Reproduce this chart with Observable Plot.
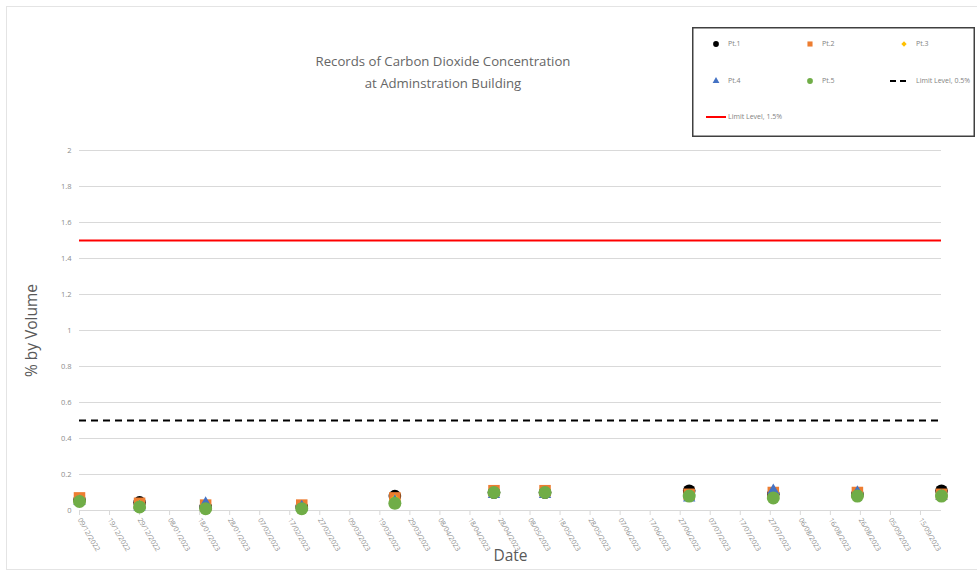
<!DOCTYPE html>
<html>
<head>
<meta charset="utf-8">
<script src="https://cdn.jsdelivr.net/npm/d3@7"></script>
<script src="https://cdn.jsdelivr.net/npm/@observablehq/plot@0.6"></script>
<style>
  html, body { margin: 0; padding: 0; background: #fff; }
  #wrap { position: relative; width: 977px; height: 572px; font-family: "Open Sans", "Liberation Sans", sans-serif; }
  #frame { position: absolute; left: 6px; top: 6px; width: 975px; height: 564px; border: 1.5px solid #e4e4e4; border-right: none; box-sizing: border-box; pointer-events: none; }
  #title { position: absolute; left: 243px; width: 400px; top: 50px; text-align: center; color: #666666; font-size: 13.2px; line-height: 22px; font-family: "Open Sans", "Liberation Sans", sans-serif; }
  #legend { position: absolute; left: 692px; top: 27px; }
</style>
</head>
<body>
<div id="wrap">
  <div id="chart"></div>
  <div id="frame"></div>
  <div id="title">Records of Carbon Dioxide Concentration<br>at Adminstration Building</div>
  <div id="legend"></div>
</div>
<script>
// ---- data ----
const dates = ["2022-12-09","2022-12-29","2023-01-20","2023-02-21","2023-03-24","2023-04-26","2023-05-13","2023-06-30","2023-07-28","2023-08-25","2023-09-22"];
const pt1 = [0.06, 0.045, 0.02, 0.02, 0.08, 0.10, 0.10, 0.11, 0.09, 0.09, 0.11];
const pt2 = [0.07, 0.04, 0.03, 0.03, 0.07, 0.11, 0.11, 0.09, 0.10, 0.10, 0.09];
const pt3 = [0.06, 0.03, 0.03, 0.02, 0.06, 0.10, 0.10, 0.08, 0.09, 0.09, 0.08];
const pt4 = [0.05, 0.02, 0.04, 0.02, 0.05, 0.09, 0.09, 0.07, 0.11, 0.10, 0.08];
const pt5 = [0.05, 0.02, 0.01, 0.01, 0.04, 0.10, 0.10, 0.08, 0.07, 0.08, 0.08];
const seriesNames = ["Pt.1", "Pt.2", "Pt.3", "Pt.4", "Pt.5"];
const limitLow = 0.5;
const limitHigh = 1.5;
const xTickLabels = ["09/12/2022","19/12/2022","29/12/2022","08/01/2023","18/01/2023","28/01/2023","07/02/2023","17/02/2023","27/02/2023","09/03/2023","19/03/2023","29/03/2023","08/04/2023","18/04/2023","28/04/2023","08/05/2023","18/05/2023","28/05/2023","07/06/2023","17/06/2023","27/06/2023","07/07/2023","17/07/2023","27/07/2023","06/08/2023","16/08/2023","26/08/2023","05/09/2023","15/09/2023"];
const yTicks = [0, 0.2, 0.4, 0.6, 0.8, 1, 1.2, 1.4, 1.6, 1.8, 2];

// ---- build ----
const parse = s => new Date(s + "T00:00:00Z");
const parseLabel = s => { const [d, m, y] = s.split("/"); return new Date(Date.UTC(+y, +m - 1, +d)); };
const xTicks = xTickLabels.map(parseLabel);
const fmt = d3.utcFormat("%d/%m/%Y");

const styles = [
  {fill: "#000000", symbol: "circle", r: 6.3},
  {fill: "#ed7d31", symbol: "square", r: 6.5},
  {fill: "#ffc000", symbol: "diamond2", r: 5},
  {fill: "#4472c4", symbol: "triangle", r: 4.6},
  {fill: "#70ad47", symbol: "circle", r: 6.5}
];
const allSeries = [pt1, pt2, pt3, pt4, pt5];
const rows = allSeries.map((vals, i) => vals.map((v, j) => ({date: parse(dates[j]), value: v, series: seriesNames[i]})));

const marks = [
  Plot.gridY(yTicks, {stroke: "#d9d9d9", strokeOpacity: 1, strokeWidth: 1}),
  Plot.axisY(yTicks, {tickSize: 0, tickPadding: 8, fontSize: 7.5, fill: "#8c8c8c", tickFormat: d => String(+d.toFixed(1)), label: null}),
  Plot.ruleY([0], {stroke: "#d9d9d9", strokeWidth: 1}),
  Plot.axisX(xTicks, {tickSize: 5, stroke: "#d9d9d9", tickRotate: 60, fontSize: 7, fill: "#8c8c8c", tickFormat: fmt, label: null, tickPadding: 3}),
  Plot.ruleY([limitHigh], {stroke: "#ff0000", strokeWidth: 2}),
  Plot.ruleY([limitLow], {stroke: "#000000", strokeWidth: 2, strokeDasharray: "7,5"})
];
rows.forEach((r, i) => {
  marks.push(Plot.dot(r, {x: "date", y: "value", r: styles[i].r, fill: styles[i].fill, symbol: () => styles[i].symbol, stroke: "none"}));
});
marks.push(Plot.text(["% by Volume"], {frameAnchor: "left", textAnchor: "middle", dx: -47, rotate: -90, fontSize: 15.5, fill: "#595959", text: d => d, fontFamily: "Open Sans, Liberation Sans, sans-serif"}));
marks.push(Plot.text(["Date"], {frameAnchor: "bottom", dy: 50, fontSize: 15.5, fill: "#595959", text: d => d, fontFamily: "Open Sans, Liberation Sans, sans-serif"}));

const chart = Plot.plot({
  width: 977,
  height: 572,
  marginLeft: 79,
  marginRight: 36,
  marginTop: 150,
  marginBottom: 62,
  style: {background: "transparent", fontFamily: "Open Sans, Liberation Sans, sans-serif", overflow: "visible"},
  x: {type: "utc", domain: [parse("2022-12-09"), parse("2023-09-22")]},
  y: {domain: [0, 2]},
  marks
});
document.getElementById("chart").appendChild(chart);

// ---- legend ----
const lw = 283, lh = 110;
const leg = d3.select("#legend").append("svg").attr("width", lw).attr("height", lh);
leg.append("rect").attr("x", 0.75).attr("y", 0.75).attr("width", lw - 1.5).attr("height", lh - 1.5)
  .attr("fill", "#fff").attr("stroke", "#404040").attr("stroke-width", 1.5);
const symMap = {circle: d3.symbolCircle, square: d3.symbolSquare, diamond2: d3.symbolDiamond2, triangle: d3.symbolTriangle};
const legItems = [
  ...seriesNames.map((n, i) => ({label: n, kind: "sym", i})),
  {label: "Limit Level, " + limitLow + "%", kind: "dash"},
  {label: "Limit Level, " + limitHigh + "%", kind: "red"}
];
const colX = [24, 118, 212];
const rowY = [17, 54, 90];
legItems.forEach((it, k) => {
  const cx = colX[k % 3], cy = rowY[Math.floor(k / 3)];
  const g = leg.append("g");
  let tx = cx + 12;
  if (it.kind === "sym") {
    g.append("path").attr("d", d3.symbol(symMap[styles[it.i].symbol], it.i === 2 ? 18 : (it.i === 3 ? 20 : 26))())
      .attr("transform", `translate(${cx},${cy})`).attr("fill", styles[it.i].fill);
  } else if (it.kind === "dash") {
    g.append("line").attr("x1", cx - 14).attr("x2", cx + 2).attr("y1", cy).attr("y2", cy)
      .attr("stroke", "#000").attr("stroke-width", 2).attr("stroke-dasharray", "6,4");
    tx = cx + 12;
  } else {
    g.append("line").attr("x1", cx - 10).attr("x2", cx + 10).attr("y1", cy).attr("y2", cy)
      .attr("stroke", "#ff0000").attr("stroke-width", 2);
    tx = cx + 12;
  }
  g.append("text").attr("x", tx).attr("y", cy).attr("dy", "0.35em").attr("font-size", 7)
    .attr("fill", "#7f7f7f").attr("font-family", "Open Sans, Liberation Sans, sans-serif").text(it.label);
});
</script>
</body>
</html>
